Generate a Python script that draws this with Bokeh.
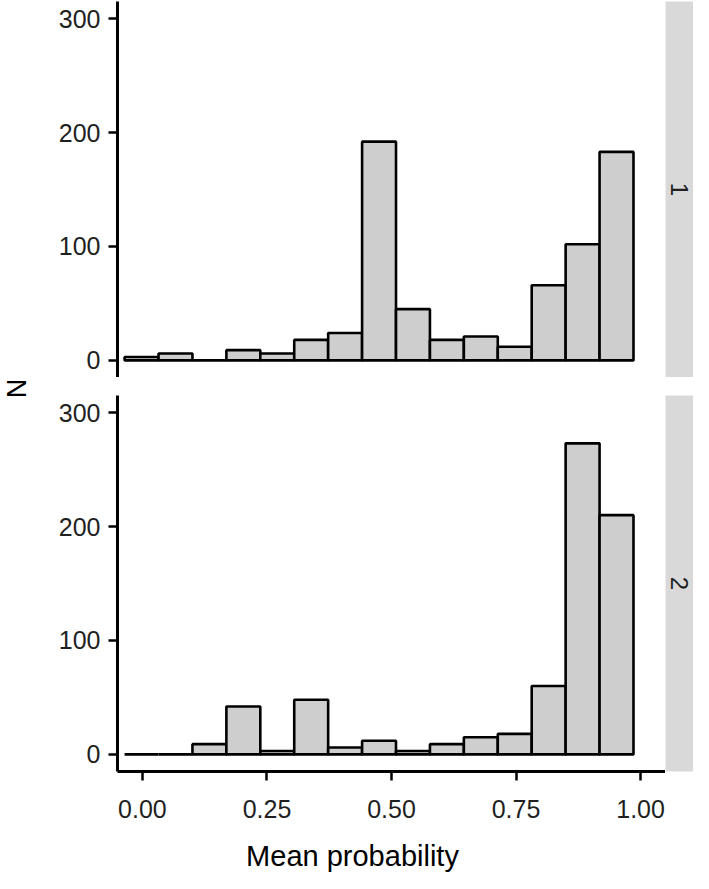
import math
from bokeh.plotting import figure
from bokeh.layouts import row, column
from bokeh.models import Range1d, FixedTicker, NumeralTickFormatter, ColumnDataSource, Label
from bokeh.core.properties import value
from bokeh.embed import file_html
from bokeh.resources import INLINE

# ---- data ----
bin_centers = [-0.0017, 0.0664, 0.1345, 0.2026, 0.2707, 0.3388, 0.4069, 0.4750,
               0.5431, 0.6112, 0.6793, 0.7474, 0.8155, 0.8836, 0.9517]
bin_width = 0.0681
counts_1 = [3, 6, 0, 9, 6, 18, 24, 192, 45, 18, 21, 12, 66, 102, 183]
counts_2 = [0, 0, 9, 42, 3, 48, 6, 12, 3, 9, 15, 18, 60, 273, 210]
facet_labels = ["1", "2"]
x_ticks = [0.0, 0.25, 0.5, 0.75, 1.0]
y_ticks = [0, 100, 200, 300]
x_title = "Mean probability"
y_title = "N"

FONT = "Liberation Sans"
TICK_COLOR = "#1f1f1f"
BAR_FILL = "#CDCECD"
STRIP_FILL = "#D9D9D9"

TITLE_W = 32
LEFT_B = 85
FRAME_W = 548
STRIP_W = 28
TOP_B = 1
FRAME_H = 376
GAP = 18
BOTTOM_B = 58
XTITLE_H = 44
PANEL_W = LEFT_B + FRAME_W
TOTAL_W = TITLE_W + PANEL_W + STRIP_W


def make_panel(counts, show_x, height, top_b, bottom_b):
    p = figure(width=PANEL_W, height=height,
               x_range=Range1d(-0.05, 1.05), y_range=Range1d(-15, 315),
               output_backend="svg", toolbar_location=None,
               min_border_left=LEFT_B, min_border_right=0,
               min_border_top=top_b, min_border_bottom=bottom_b,
               x_axis_location="below" if show_x else None)
    p.outline_line_color = None
    p.xgrid.visible = False
    p.ygrid.visible = False
    p.background_fill_color = "white"
    p.border_fill_color = "white"
    src = ColumnDataSource(dict(
        left=[c - bin_width / 2 for c in bin_centers],
        right=[c + bin_width / 2 for c in bin_centers],
        top=counts,
        bottom=[0] * len(counts)))
    p.quad(left="left", right="right", top="top", bottom="bottom", source=src,
           fill_color=BAR_FILL, line_color="black", line_width=2.6)
    ya = p.yaxis[0]
    ya.ticker = FixedTicker(ticks=y_ticks)
    ya.minor_tick_line_color = None
    ya.axis_line_width = 3
    ya.axis_line_color = "black"
    ya.major_tick_line_width = 2.5
    ya.major_tick_line_color = "black"
    ya.major_tick_in = 0
    ya.major_tick_out = 9
    ya.major_label_standoff = 8
    ya.major_label_text_font = FONT
    ya.major_label_text_font_size = "25px"
    ya.major_label_text_color = TICK_COLOR
    if show_x:
        xa = p.xaxis[0]
        xa.ticker = FixedTicker(ticks=x_ticks)
        xa.formatter = NumeralTickFormatter(format="0.00")
        xa.minor_tick_line_color = None
        xa.axis_line_width = 3
        xa.axis_line_color = "black"
        xa.major_tick_line_width = 2.5
        xa.major_tick_line_color = "black"
        xa.major_tick_in = 0
        xa.major_tick_out = 9
        xa.major_label_standoff = 19
        xa.major_label_text_font = FONT
        xa.major_label_text_font_size = "25px"
        xa.major_label_text_color = TICK_COLOR
    return p


def make_strip(label, height, top_b, bottom_b):
    s = figure(width=STRIP_W, height=height, x_range=Range1d(0, 1), y_range=Range1d(0, 1),
               output_backend="svg", toolbar_location=None,
               min_border_left=0, min_border_right=0,
               min_border_top=top_b, min_border_bottom=bottom_b,
               x_axis_location=None, y_axis_location=None)
    s.outline_line_color = None
    s.xgrid.visible = False
    s.ygrid.visible = False
    s.background_fill_color = STRIP_FILL
    s.border_fill_color = "white"
    s.text(x=[0.5], y=[0.5], text=[label], angle=-math.pi / 2,
           text_align="center", text_baseline="middle",
           text_font=value(FONT), text_font_size="24px", text_color=TICK_COLOR)
    return s


def blank(width, height):
    f = figure(width=width, height=height, x_range=Range1d(0, width), y_range=Range1d(0, height),
               output_backend="svg", toolbar_location=None,
               min_border_left=0, min_border_right=0, min_border_top=0, min_border_bottom=0,
               x_axis_location=None, y_axis_location=None)
    f.outline_line_color = None
    f.xgrid.visible = False
    f.ygrid.visible = False
    return f


H1 = TOP_B + FRAME_H
H2 = GAP + FRAME_H + BOTTOM_B
p1 = make_panel(counts_1, False, H1, TOP_B, 0)
s1 = make_strip(facet_labels[0], H1, TOP_B, 0)
p2 = make_panel(counts_2, True, H2, GAP, BOTTOM_B)
s2 = make_strip(facet_labels[1], H2, GAP, BOTTOM_B)

# y-axis title, centred in the gap between the two panels
fN = blank(TITLE_W, H1 + H2)
fN.add_layout(Label(x=TITLE_W / 2, y=H2 - GAP / 2 - 2, text=y_title, angle=math.pi / 2,
                    text_align="center", text_baseline="middle",
                    text_font=FONT, text_font_size="27px", text_color="black"))

# x-axis title
fX = blank(TOTAL_W, XTITLE_H)
fX.add_layout(Label(x=352, y=18, text=x_title,
                    text_align="center", text_baseline="middle",
                    text_font=FONT, text_font_size="29px", text_color="black"))

layout = column(row(fN, column(row(p1, s1), row(p2, s2))), fX)

open("out.html", "w").write(file_html(layout, INLINE))
